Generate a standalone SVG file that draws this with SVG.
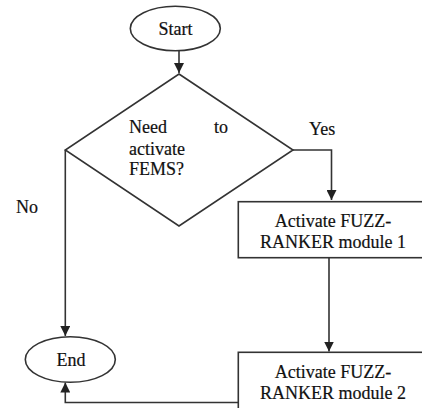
<svg xmlns="http://www.w3.org/2000/svg" width="422" height="408" viewBox="0 0 422 408">
<style>
.s{fill:#fff;stroke:#333;stroke-width:1.6}
.c{fill:none;stroke:#333;stroke-width:1.6}
text{font-family:"Liberation Serif","Times New Roman",serif;font-size:18px;fill:#111;stroke:#111;stroke-width:0.2}
.m{text-anchor:middle}
</style>
<defs>
<marker id="a" viewBox="0 0 10 10" refX="10" refY="5" markerWidth="10" markerHeight="10" markerUnits="userSpaceOnUse" orient="auto">
<path d="M0,0 L10,5 L0,10 Z" fill="#222"/>
</marker>
</defs>
<rect width="422" height="408" fill="#fff"/>
<g id="connectors">
<path class="c" d="M179,51 V73" marker-end="url(#a)"/>
<path class="c" d="M293,150 H331.5 V200" marker-end="url(#a)"/>
<path class="c" d="M65.3,150 V336" marker-end="url(#a)"/>
<path class="c" d="M329,258 V351.5" marker-end="url(#a)"/>
<path class="c" d="M238,402.5 H65.3 V382.5" marker-end="url(#a)"/>
</g>
<g id="start">
<ellipse class="s" cx="175.3" cy="28.5" rx="45" ry="22.3"/>
<text class="m" x="175.5" y="35">Start</text>
</g>
<g id="decision">
<path class="s" d="M179,74 L293,150 L179,226 L65.3,150 Z"/>
<text x="129" y="133">Need</text>
<text x="214" y="133">to</text>
<text x="129" y="155">activate</text>
<text x="129" y="175">FEMS?</text>
</g>
<text x="309" y="135">Yes</text>
<text x="16" y="213">No</text>
<g id="module1">
<rect class="s" x="238.3" y="201.7" width="192" height="56"/>
<text class="m" x="333" y="226.5">Activate FUZZ-</text>
<text class="m" x="333" y="248">RANKER module 1</text>
</g>
<g id="module2">
<rect class="s" x="238.3" y="352.3" width="192" height="60"/>
<text class="m" x="333" y="378">Activate FUZZ-</text>
<text class="m" x="333" y="399">RANKER module 2</text>
</g>
<g id="end">
<ellipse class="s" cx="70.3" cy="359.5" rx="45" ry="22.8"/>
<text class="m" x="71" y="366">End</text>
</g>
</svg>
